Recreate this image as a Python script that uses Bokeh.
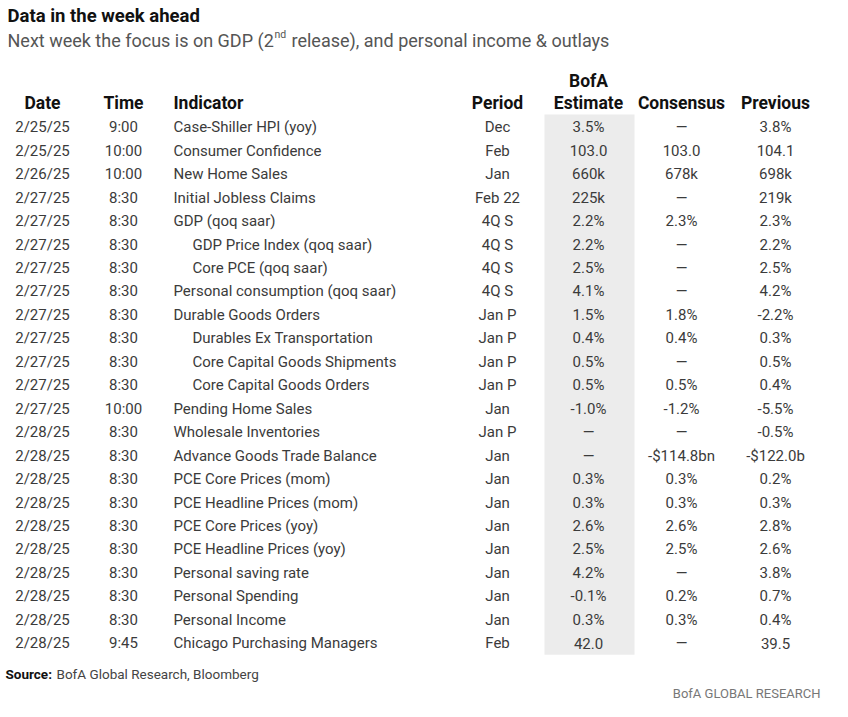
from bokeh.plotting import figure
from bokeh.models import ColumnDataSource, Range1d
from bokeh.core.properties import value
from bokeh.embed import file_html
from bokeh.resources import INLINE

title = "Data in the week ahead"
subtitle_a = "Next week the focus is on GDP (2"
subtitle_sup = "nd"
subtitle_b = "release), and personal income & outlays"
source_label = "Source:"
source_text = "BofA Global Research, Bloomberg"
brand = "BofA GLOBAL RESEARCH"

headers = ["Date", "Time", "Indicator", "Period", "Estimate", "Consensus", "Previous"]
header_top = "BofA"

dates = ["2/25/25", "2/25/25", "2/26/25", "2/27/25", "2/27/25", "2/27/25", "2/27/25",
         "2/27/25", "2/27/25", "2/27/25", "2/27/25", "2/27/25", "2/27/25", "2/28/25",
         "2/28/25", "2/28/25", "2/28/25", "2/28/25", "2/28/25", "2/28/25", "2/28/25",
         "2/28/25", "2/28/25"]
times = ["9:00", "10:00", "10:00", "8:30", "8:30", "8:30", "8:30", "8:30", "8:30", "8:30",
         "8:30", "8:30", "10:00", "8:30", "8:30", "8:30", "8:30", "8:30", "8:30", "8:30",
         "8:30", "8:30", "9:45"]
indicators = ["Case-Shiller HPI (yoy)", "Consumer Confidence", "New Home Sales",
              "Initial Jobless Claims", "GDP (qoq saar)", "GDP Price Index (qoq saar)",
              "Core PCE (qoq saar)", "Personal consumption (qoq saar)", "Durable Goods Orders",
              "Durables Ex Transportation", "Core Capital Goods Shipments",
              "Core Capital Goods Orders", "Pending Home Sales", "Wholesale Inventories",
              "Advance Goods Trade Balance", "PCE Core Prices (mom)", "PCE Headline Prices (mom)",
              "PCE Core Prices (yoy)", "PCE Headline Prices (yoy)", "Personal saving rate",
              "Personal Spending", "Personal Income", "Chicago Purchasing Managers"]
sub_item = [False, False, False, False, False, True, True, False, False, True, True, True,
            False, False, False, False, False, False, False, False, False, False, False]
periods = ["Dec", "Feb", "Jan", "Feb 22", "4Q S", "4Q S", "4Q S", "4Q S", "Jan P", "Jan P",
           "Jan P", "Jan P", "Jan", "Jan P", "Jan", "Jan", "Jan", "Jan", "Jan", "Jan", "Jan",
           "Jan", "Feb"]
bofa_est = ["3.5%", "103.0", "660k", "225k", "2.2%", "2.2%", "2.5%", "4.1%", "1.5%", "0.4%",
            "0.5%", "0.5%", "-1.0%", "—", "—", "0.3%", "0.3%", "2.6%", "2.5%", "4.2%",
            "-0.1%", "0.3%", "42.0"]
consensus = ["—", "103.0", "678k", "—", "2.3%", "—", "—", "—", "1.8%", "0.4%", "—", "0.5%",
             "-1.2%", "—", "-$114.8bn", "0.3%", "0.3%", "2.6%", "2.5%", "—", "0.2%", "0.3%", "—"]
previous = ["3.8%", "104.1", "698k", "219k", "2.3%", "2.2%", "2.5%", "4.2%", "-2.2%", "0.3%",
            "0.5%", "0.4%", "-5.5%", "-0.5%", "-$122.0b", "0.2%", "0.3%", "2.8%", "2.6%",
            "3.8%", "0.7%", "0.4%", "39.5"]

# ---- layout (page pixel coordinates) ----
W, H = 840, 709
FONT = value("Roboto")
ROW0, ROWH = 126.8, 23.45
BODY = "#3b3b3b"

p = figure(width=W, height=H, output_backend="svg", toolbar_location=None,
           x_range=Range1d(0, W), y_range=Range1d(H, 0),
           min_border=0, outline_line_color=None)
p.axis.visible = False
p.grid.visible = False

n = len(dates)
ys = [ROW0 + i * ROWH for i in range(n)]

# shaded BofA estimate column
p.quad(left=[544], right=[634], top=[114], bottom=[ys[-1] + 11.5],
       fill_color="#ececec", line_color=None)

def col(texts, x, align, size="15px", color=BODY, style="normal", yv=None):
    xs = x if isinstance(x, list) else [x] * len(texts)
    src = ColumnDataSource(dict(x=xs, y=yv if yv is not None else ys, t=texts))
    p.text(x="x", y="y", text="t", source=src, text_align=align, text_baseline="middle",
           text_font=FONT, text_font_size=size, text_color=color, text_font_style=style)

col(dates, 42, "center")
col(times, 123, "center")
col(indicators, [192 if s else 173 for s in sub_item], "left")
col(periods, 497, "center")
col(bofa_est, 588, "center")
col(consensus, 681, "center")
col(previous, 775, "center")

# headers
hx = [42, 123, 173, 497, 588, 681, 775]
halign = ["center", "center", "left", "center", "center", "center", "center"]
for t, x, a in zip(headers, hx, halign):
    col([t], x, a, size="17.5px", color="#111111", style="bold", yv=[102])
col([header_top], 588, "center", size="17.5px", color="#111111", style="bold", yv=[80])

# titles
col([title], 7, "left", size="18.5px", color="#111111", style="bold", yv=[15])
col([subtitle_a], 7, "left", size="18px", color="#555555", yv=[40])
col([subtitle_sup], 274, "left", size="10.5px", color="#555555", yv=[34])
col([subtitle_b], 291, "left", size="18px", color="#555555", yv=[40])

# footer
col([source_label], 5, "left", size="13.5px", color="#111111", style="bold", yv=[673])
col([source_text], 56, "left", size="13.5px", color="#444444", yv=[673])
col([brand], 820, "right", size="13px", color="#777777", yv=[693])

open("out.html", "w").write(file_html(p, INLINE))
